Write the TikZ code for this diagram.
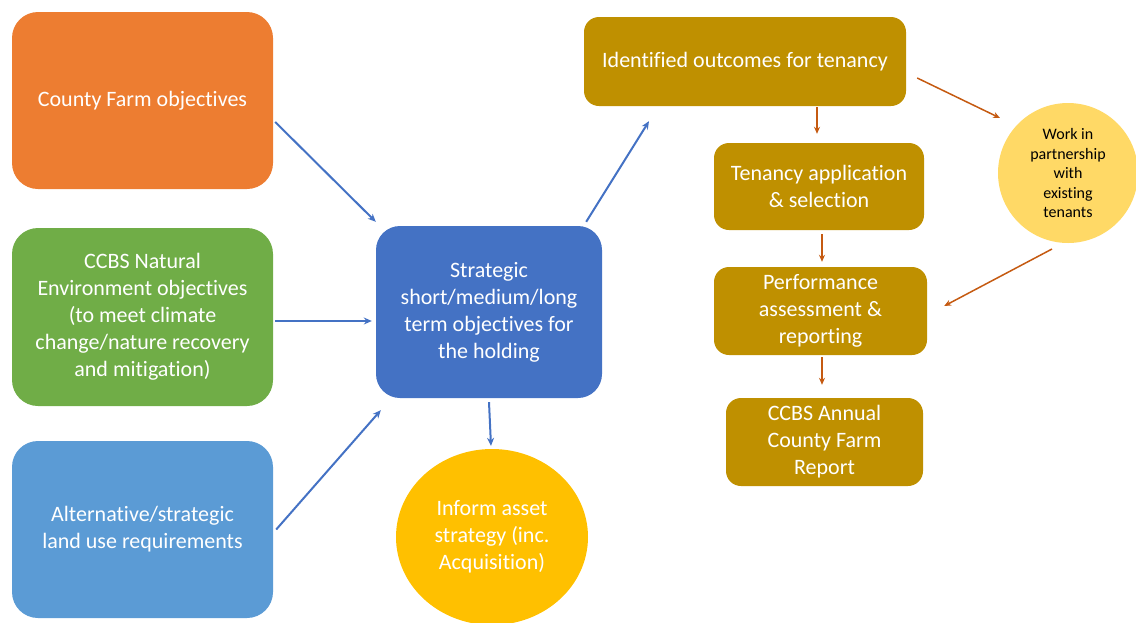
\documentclass[tikz,border=0pt]{standalone}
\usepackage{fontspec}
\setmainfont[Ligatures={NoCommon,NoContextual},RawFeature={-liga;-clig;-dlig}]{Carlito}
\usetikzlibrary{shapes.geometric,arrows.meta,calc}
\definecolor{cOrange}{HTML}{ED7D31}
\definecolor{cGreen}{HTML}{70AD47}
\definecolor{cLBlue}{HTML}{5B9BD5}
\definecolor{cBlue}{HTML}{4472C4}
\definecolor{cGold}{HTML}{FFC000}
\definecolor{cOlive}{HTML}{BF9000}
\definecolor{cPale}{HTML}{FFD966}
\definecolor{cLineB}{HTML}{4472C4}
\definecolor{cLineO}{HTML}{C55A11}
\tikzset{
  bigbox/.style={rectangle, rounded corners=26pt, draw=none, text=white, align=center,
    font=\fontsize{22}{27}\selectfont, inner sep=0pt},
  olivebox/.style={rectangle, rounded corners=15pt, fill=cOlive, draw=none, text=white, align=center,
    font=\fontsize{22}{27}\selectfont, inner sep=0pt},
  barrow/.style={draw=cLineB, line width=2pt, -{Stealth[length=8pt,width=7pt]}},
  oarrow/.style={draw=cLineO, line width=1.5pt, -{Stealth[length=7pt,width=6pt]}},
}
\begin{document}
\begin{tikzpicture}[x=1pt,y=-1pt]
\useasboundingbox (0,0) rectangle (1136,622);
% left column
\node[bigbox, fill=cOrange, minimum width=261pt, minimum height=177pt] (cf) at (142.5,100.5) {County Farm objectives};
\node[bigbox, fill=cGreen, minimum width=261pt, minimum height=178pt] (ne) at (142.5,317) {CCBS Natural\\Environment objectives\\(to meet climate\\change/nature recovery\\and mitigation)};
\node[bigbox, fill=cLBlue, minimum width=261pt, minimum height=177pt] (lu) at (142.5,529.5) {Alternative/strategic\\land use requirements};
% centre
\node[bigbox, fill=cBlue, rounded corners=24pt, minimum width=226pt, minimum height=172pt] (sb) at (489,312) {Strategic\\short/medium/long\\term objectives for\\the holding};
\node[ellipse, fill=cGold, draw=none, text=white, align=center, font=\fontsize{22}{27}\selectfont,
  minimum width=192pt, minimum height=176pt, inner sep=0pt] (ia) at (492,537) {Inform asset\\strategy (inc.\\Acquisition)};
% right column
\node[olivebox, minimum width=322pt, minimum height=89pt] (io) at (745,61.5) {Identified outcomes for tenancy};
\node[olivebox, minimum width=210pt, minimum height=87pt] (ta) at (819,186.5) {Tenancy application\\\& selection};
\node[olivebox, minimum width=213pt, minimum height=88pt] (pa) at (820.5,311) {Performance\\assessment \&\\reporting};
\node[olivebox, minimum width=197pt, minimum height=88pt] (cr) at (824.5,442) {CCBS Annual\\County Farm\\Report};
\node[circle, fill=cPale, draw=none, text=black, align=center, font=\fontsize{16}{19.5}\selectfont,
  minimum size=140pt, inner sep=0pt] (wp) at (1068,173) {Work in\\partnership\\with\\existing\\tenants};
% connectors
\draw[barrow] ($(cf.east)+(2,21.5)$) -- ($(sb.north west)+(0,-4)$);
\draw[barrow] ($(ne.east)+(2,4)$) -- ($(sb.west)+(-4,9)$);
\draw[barrow] ($(lu.east)+(3,0)$) -- ($(sb.south west)+(5,12)$);
\draw[barrow] ($(sb.south)+(0,4)$) -- ($(ia.north)+(-1,-3)$);
\draw[barrow] ($(sb.north east)+(-16,-4)$) -- ($(io.south)+(-96,15)$);
\draw[oarrow] ($(io.south)+(72,1)$) -- ($(ta.north)+(-2,-9)$);
\draw[oarrow] ($(io.east)+(11,16.5)$) -- ($(wp.center)+(-68,-55)$);
\draw[oarrow] ($(ta.south)+(3,4)$) -- ($(pa.north)+(1.5,-5)$);
\draw[oarrow] ($(wp.center)+(-16,76)$) -- ($(pa.east)+(17,-5)$);
\draw[oarrow] ($(pa.south)+(1.5,2)$) -- ($(cr.north)+(-2.5,-13)$);
\end{tikzpicture}
\end{document}
